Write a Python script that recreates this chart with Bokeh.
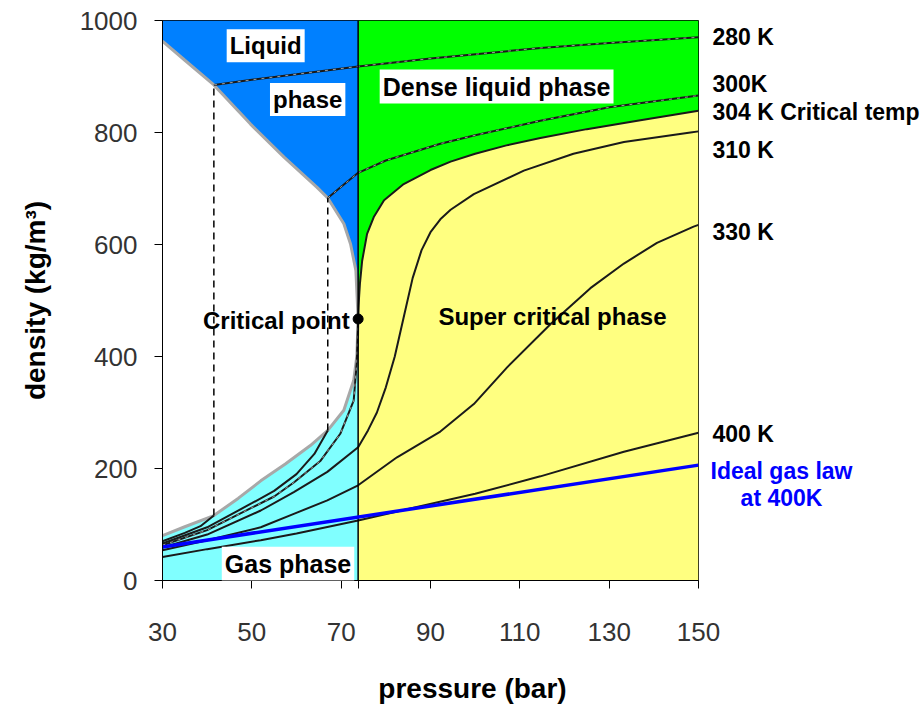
from bokeh.plotting import figure
from bokeh.models import Label, FixedTicker, Range1d
from bokeh.layouts import row, column
from bokeh.core.properties import value
from bokeh.embed import file_html
from bokeh.resources import INLINE

# ---- axis limits / critical point ----
P_MIN, P_MAX = 30, 150
RHO_MIN, RHO_MAX = 0, 1000
P_CRIT, RHO_CRIT = 73.8, 467

x_ticks = [30, 50, 70, 90, 110, 130, 150]
y_ticks = [0, 200, 400, 600, 800, 1000]

# ---- saturation dome ----
sat_liq_p = [30.0, 35.0, 41.5, 49.7, 57.2, 64.6, 67.0, 70.6, 72.1, 73.3, 73.8]
sat_liq_rho = [963, 929, 885, 815, 756, 702, 683, 637, 601, 553, 467]
sat_vap_p = [30.0, 35.0, 41.5, 47.0, 52.0, 57.5, 63.1, 67.0, 70.6, 72.8, 73.5, 73.8]
sat_vap_rho = [80, 96, 116, 147, 178, 208, 241, 268, 304, 357, 400, 467]

# ---- isotherms ----
t280_gas_p = [30, 35, 38.5, 41.5]
t280_gas_rho = [70, 85, 97, 116]
t280_liq_p = [41.5, 50, 60, 73.8, 90, 114.6, 130, 150]
t280_liq_rho = [885, 894, 904, 918, 932, 951, 960, 970]

t300_gas_p = [30, 40, 50, 55, 60, 64, 67.0]
t300_gas_rho = [66, 95, 138, 160, 190, 226, 268]
t300_liq_p = [67.0, 70, 73.8, 80, 92.2, 100, 114.6, 130, 150]
t300_liq_rho = [683, 703, 728, 750, 780, 795, 821, 845, 866]

t304_gas_p = [30, 40, 50, 55, 59.4, 65.4, 69.8, 72.8, 73.5, 73.8]
t304_gas_rho = [63, 90, 130, 150, 175, 214, 262, 321, 390, 467]
t304_dense_p = [73.8, 74.0, 74.2, 74.7, 75.8, 77.3, 79.6, 84, 90, 94.5, 100, 107,
                114.6, 125, 137, 150]
t304_dense_rho = [467, 505, 530, 571, 619, 649, 679, 708, 733, 748, 762, 777,
                  790, 806, 822, 839]

t310_p = [30, 40, 52, 59.4, 66.9, 73.8, 76, 78, 80, 82, 84, 86, 88, 90,
          92.2, 94.5, 99.7, 110.9, 122, 133.3, 148.2, 150]
t310_rho = [59, 82, 125, 158, 194, 238, 268, 300, 345, 400, 470, 540, 590, 622,
            645, 662, 690, 732, 762, 783, 800, 802]

t330_p = [30, 40, 52, 59.4, 66.9, 73.8, 82.5, 92.2, 99.7, 107.2, 116.9, 125.8,
          133.3, 140.7, 148.9, 150]
t330_rho = [54, 72, 95, 119, 143, 170, 220, 266, 315, 381, 458, 522,
            566, 603, 632, 635]

t400_p = [30, 40, 52, 60, 73.8, 84, 100, 114.6, 133.3, 150]
t400_rho = [42, 56, 72, 84, 107, 126, 155, 186, 230, 264]

ideal_p = [30, 150]
ideal_rho = [60, 206]

# ---- right-hand curve labels ----
curve_labels = ["280 K", "300K", "304 K Critical temp", "310 K", "330 K", "400 K"]
curve_label_rho = [971, 887, 837, 768, 623, 261]
ideal_labels = ["Ideal gas law", "at 400K"]
ideal_label_rho = [195, 148]

x_title = "pressure (bar)"
y_title = "density (kg/m³)"

FONT = "Liberation Sans"
H_MAIN = 656          # frame spans y 20..580
TOP, BOTTOM = 20, H_MAIN - 580
H_TITLE = 705 - H_MAIN
MAIN_W = 724          # frame spans x 162..698, extra room for the "150" tick label
OVERLAP = 24          # label strip starts at x = 700

p = figure(width=MAIN_W, height=H_MAIN,
           x_range=Range1d(P_MIN, P_MAX), y_range=Range1d(RHO_MIN, RHO_MAX),
           output_backend="svg", toolbar_location=None,
           min_border_left=162, min_border_right=MAIN_W - 698,
           min_border_top=TOP, min_border_bottom=BOTTOM)
p.xgrid.visible = False
p.ygrid.visible = False
p.background_fill_color = "white"
p.border_fill_color = "white"
p.outline_line_color = "black"
p.outline_line_width = 1

p.xaxis.ticker = FixedTicker(ticks=x_ticks + [P_CRIT])
p.xaxis.major_label_overrides = {P_CRIT: ""}
p.yaxis.ticker = FixedTicker(ticks=y_ticks)
for ax in (p.xaxis[0], p.yaxis[0]):
    ax.major_tick_out = 8
    ax.major_tick_in = 0
    ax.minor_tick_out = 0
    ax.minor_tick_in = 0
    ax.axis_line_color = "black"
    ax.major_tick_line_color = "black"
    ax.major_label_text_font = FONT
    ax.major_label_text_font_size = "26px"
    ax.major_label_text_color = "#333333"
p.xaxis.major_label_standoff = 34
p.yaxis.major_label_standoff = 17
p.yaxis.axis_label = y_title
p.yaxis.axis_label_text_font = FONT
p.yaxis.axis_label_text_font_style = "bold"
p.yaxis.axis_label_text_font_size = "28px"
p.yaxis.axis_label_text_color = "black"
p.yaxis.axis_label_standoff = 26

# ---- region fills ----
p.patch([P_MIN, P_CRIT] + sat_liq_p[::-1], [RHO_MAX, RHO_MAX] + sat_liq_rho[::-1],
        color="#0080ff", line_width=0)
p.varea(x=sat_vap_p, y1=[RHO_MIN] * len(sat_vap_p), y2=sat_vap_rho, color="#80ffff")
p.patch(t304_dense_p + [P_MAX, P_CRIT], t304_dense_rho + [RHO_MAX, RHO_MAX],
        color="#00ff00", line_width=0)
p.varea(x=t304_dense_p, y1=[RHO_MIN] * len(t304_dense_p), y2=t304_dense_rho, color="#ffff80")

# ---- saturation dome ----
p.line(sat_vap_p + sat_liq_p[::-1], sat_vap_rho + sat_liq_rho[::-1],
       line_color="#a8a8a8", line_width=3)

# ---- two-phase tie lines ----
p.segment(x0=[t280_gas_p[-1], t300_gas_p[-1]], y0=[t280_gas_rho[-1], t300_gas_rho[-1]],
          x1=[t280_liq_p[0], t300_liq_p[0]], y1=[t280_liq_rho[0], t300_liq_rho[0]],
          line_color="black", line_width=1.5, line_dash="7 5")

# ---- isotherms ----
for xs, ys in [(t280_gas_p, t280_gas_rho), (t280_liq_p, t280_liq_rho),
               (t300_gas_p, t300_gas_rho), (t300_liq_p, t300_liq_rho),
               (t304_gas_p, t304_gas_rho), (t304_dense_p, t304_dense_rho),
               (t310_p, t310_rho), (t330_p, t330_rho), (t400_p, t400_rho)]:
    p.line(xs, ys, line_color="#1a1a1a", line_width=2)
for xs, ys in [(t280_liq_p, t280_liq_rho), (t300_liq_p, t300_liq_rho),
               (t304_gas_p, t304_gas_rho)]:
    p.line(xs, ys, line_color="white", line_width=0.8, line_alpha=0.7, line_dash="3 5")

# critical pressure boundary
p.segment(x0=[P_CRIT], y0=[RHO_MIN], x1=[P_CRIT], y1=[RHO_MAX], line_color="black", line_width=1.5)

# ideal gas
p.line(ideal_p, ideal_rho, line_color="#0000ff", line_width=3.5)

# critical point
p.scatter([P_CRIT], [RHO_CRIT], size=10, color="black")

# ---- in-plot labels ----
def lab(x, y, text, size="24px", align="center", bg=None):
    kw = dict(x=x, y=y, text=text, text_font=FONT, text_font_style="bold",
              text_font_size=size, text_color="black", text_align=align,
              text_baseline="middle")
    if bg:
        kw.update(background_fill_color=bg, padding=3)
    p.add_layout(Label(**kw))

lab(53.1, 955, "Liquid", bg="white")
lab(62.5, 859, "phase", bg="white")
lab(104.8, 882, "Dense liquid phase", size="25px", bg="white")
lab(71.9, 464, "Critical point", align="right")
lab(117.3, 471, "Super critical phase")
lab(58.1, 30, "Gas phase", size="25px", bg="white")

# ---- right-hand label strip sharing the density scale (transparent, overlapping) ----
q = figure(width=221, height=H_MAIN, x_range=Range1d(0, 221), y_range=p.y_range,
           output_backend="svg", toolbar_location=None,
           x_axis_location=None, y_axis_location=None,
           min_border_left=0, min_border_right=0,
           min_border_top=TOP, min_border_bottom=BOTTOM)
q.xgrid.visible = False
q.ygrid.visible = False
q.outline_line_color = None
q.background_fill_color = None
q.border_fill_color = None
q.styles = {"margin-left": f"-{OVERLAP}px"}
q.text(x=[12] * len(curve_labels), y=curve_label_rho, text=curve_labels,
       text_font=value(FONT), text_font_style="bold", text_font_size="23px",
       text_color="black", text_align="left", text_baseline="middle")
q.text(x=[81] * len(ideal_labels), y=ideal_label_rho, text=ideal_labels,
       text_font=value(FONT), text_font_style="bold", text_font_size="23px",
       text_color="#0000ff", text_align="center", text_baseline="middle")

# ---- x-axis title strip sharing the pressure scale ----
r = figure(width=MAIN_W, height=H_TITLE, x_range=p.x_range, y_range=Range1d(0, H_TITLE),
           output_backend="svg", toolbar_location=None,
           x_axis_location=None, y_axis_location=None,
           min_border_left=162, min_border_right=MAIN_W - 698,
           min_border_top=0, min_border_bottom=0)
r.xgrid.visible = False
r.ygrid.visible = False
r.outline_line_color = None
r.background_fill_color = None
r.border_fill_color = None
r.text(x=[99.4], y=[H_TITLE - 32], text=[x_title],
       text_font=value(FONT), text_font_style="bold", text_font_size="28px",
       text_color="black", text_align="center", text_baseline="middle")

layout = column(row(p, q), r)
open("out.html", "w").write(file_html(layout, INLINE))
